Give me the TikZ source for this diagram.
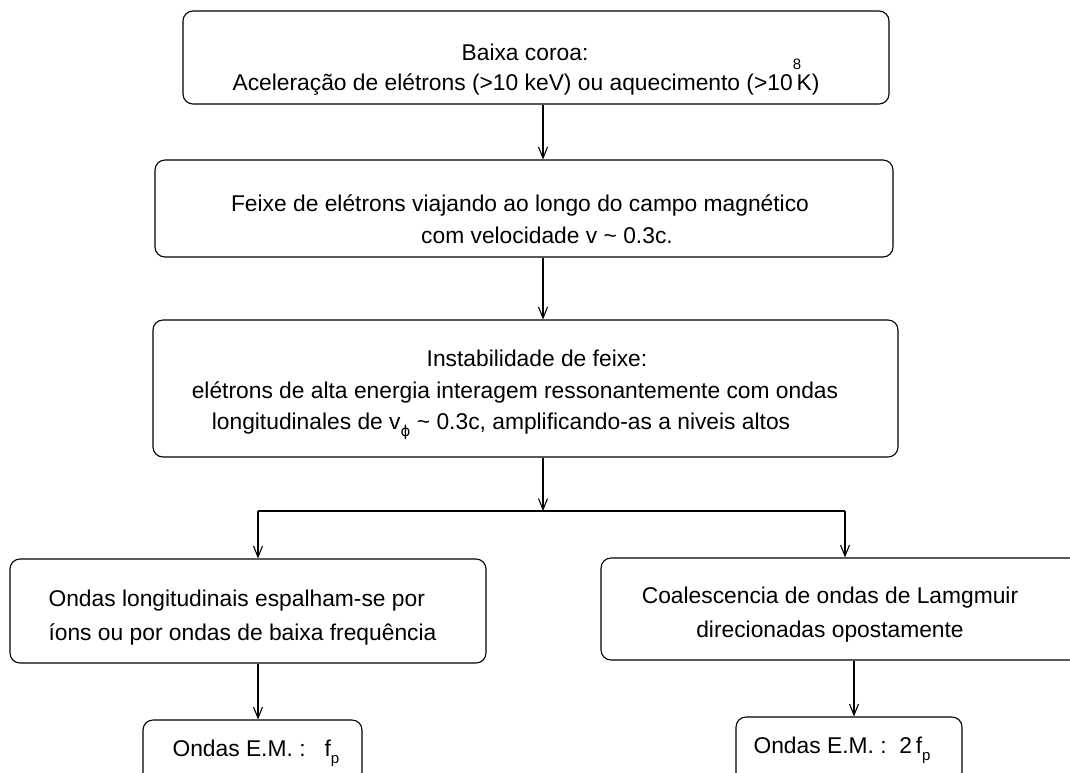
\documentclass[tikz,border=0pt]{standalone}
\usepackage{fontspec}
\setmainfont{Liberation Sans}
\newfontfamily\phifont{DejaVu Sans}
\usetikzlibrary{arrows.meta}
\usetikzlibrary{fit}
\newcommand{\subsp}[1]{\raisebox{-0.35em}{\fontsize{15}{15}\selectfont #1}}
\newcommand{\supsp}[1]{\rlap{\raisebox{0.9em}{\fontsize{15}{15}\selectfont #1}}}

\begin{document}
\begin{tikzpicture}[x=1pt,y=-1pt,line width=1.1pt]
\tikzstyle{box}=[draw,rounded corners=10pt,inner sep=0pt]
\tikzstyle{txt}=[inner sep=0pt,anchor=base,font=\fontsize{22.8}{30}\selectfont]
\tikzstyle{arr}=[-{Straight Barb[length=11pt,width=9pt]}]
\useasboundingbox (0,0) rectangle (1070,772);
\clip (0,0) rectangle (1070,772);
% boxes
\node[box,fit={(183,11) (889,104)}] (a) {};
\node[box,fit={(155,160) (893,257)}] (b) {};
\node[box,fit={(153,320) (898,457)}] (c) {};
\node[box,fit={(10,559) (486,663)}] (d) {};
\node[box,fit={(601,558) (1090,660)}] (e) {};
\node[box,fit={(143,720) (362,790)}] (f) {};
\node[box,fit={(736,717) (962,790)}] (g) {};
% texts
\node[txt] (a1) at (525,60) {Baixa coroa:};
\node[txt] (a2) at (526,90) {Acelera\c{c}\~ao de el\'etrons (>10 keV) ou aquecimento (>10\supsp{8}\,K)};
\node[txt] (b1) at (520,211) {Feixe de el\'etrons viajando ao longo do campo magn\'etico};
\node[txt] (b2) at (547,243) {com velocidade v \textasciitilde{} 0.3c.};
\node[txt] (c1) at (537,366) {Instabilidade de feixe:};
\node[txt] (c2) at (515,398) {el\'etrons de alta energia interagem ressonantemente com ondas};
\node[txt] (c3) at (501,429) {longitudinales de v\subsp{\phifont ϕ} \textasciitilde{} 0.3c, amplificando-as a niveis altos};
\node[txt,anchor=base west] (d1) at (48,606) {Ondas longitudinais espalham-se por};
\node[txt,anchor=base west] (d2) at (48,640) {\'{\i}ons ou por ondas de baixa frequ\^encia};
\node[txt] (e1) at (830,603) {Coalescencia de ondas de Lamgmuir};
\node[txt] (e2) at (830,637) {direcionadas opostamente};
\node[txt,anchor=base west] (f1) at (172,756) {Ondas E.M. :\ \ \ f\subsp{p}};
\node[txt,anchor=base west] (g1) at (753,753) {Ondas E.M. :\ \ 2\,f\subsp{p}};
% connectors
\coordinate (sp) at (543,0);
\coordinate (jl) at (258,511);
\coordinate (jr) at (845,511);
\coordinate (kr) at (854,0);
\draw[arr] (a.south -| sp) -- (b.north -| sp);
\draw[arr] (b.south -| sp) -- (c.north -| sp);
\draw[arr] (c.south -| sp) -- (sp |- jl);
\draw (jl) -- (jr);
\draw[arr] (jl) -- (jl |- d.north);
\draw[arr] (jr) -- (jr |- e.north);
\draw[arr] (d.south -| jl) -- (f.north -| jl);
\draw[arr] (e.south -| kr) -- (g.north -| kr);
\end{tikzpicture}
\end{document}
